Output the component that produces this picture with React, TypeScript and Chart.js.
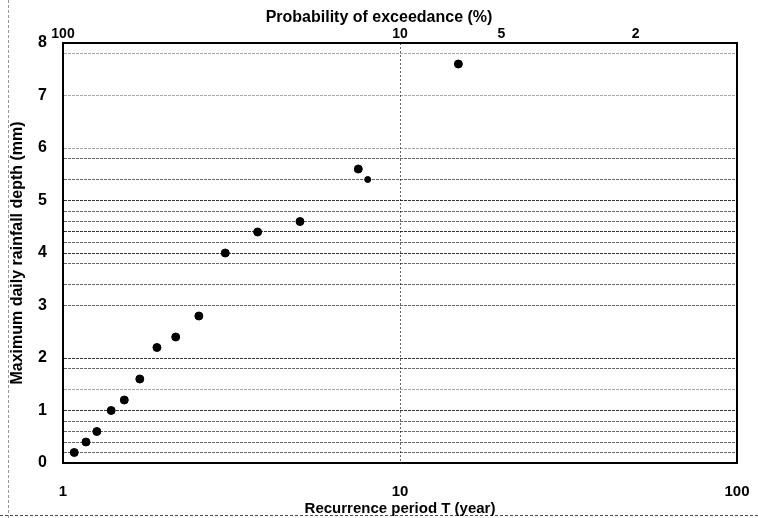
import React, { useEffect, useRef } from 'react';
import { Chart, registerables } from 'chart.js';

Chart.register(...registerables);

// Data
const recurrencePeriods = [1.08, 1.17, 1.26, 1.39, 1.52, 1.69, 1.9, 2.16, 2.53, 3.03, 3.78, 5.05, 7.52, 14.9];
const rainfallDepths = [0.2, 0.4, 0.6, 1.0, 1.2, 1.6, 2.2, 2.4, 2.8, 4.0, 4.4, 4.6, 5.6, 7.6];
const extraPeriods = [8.02];
const extraDepths = [5.4];

const bottomTickValues = [1, 10, 100];
const bottomTickLabels = ['1', '10', '100'];
const topTickValues = [1, 10, 20, 50];
const topTickLabels = ['100', '10', '5', '2'];
const yGridValues = [0, 0.2, 0.4, 0.6, 0.8, 1, 1.4, 1.8, 2, 3, 3.4, 3.8, 4, 4.2, 4.4, 4.6, 4.8, 5, 5.4, 5.8, 6, 7, 7.8, 8];
const yLabelValues = [0, 1, 2, 3, 4, 5, 6, 7, 8];
const strongGridValues = [1, 2, 4, 4.4, 5];
const weakGridValues = [1.4, 6, 7, 7.8];
const xGridValues = [10];

const FONT = '"Liberation Sans", Arial, sans-serif';

export default function App() {
  const canvasRef = useRef<HTMLCanvasElement | null>(null);

  useEffect(() => {
    const canvas = canvasRef.current;
    if (!canvas) return;
    const mainPoints = recurrencePeriods.map((x, i) => ({ x, y: rainfallDepths[i] }));
    const extraPoints = extraPeriods.map((x, i) => ({ x, y: extraDepths[i] }));

    const titleFontSize = 16;
    const titlePadTop = 8;

    const chart = new Chart(canvas, {
      type: 'scatter',
      data: {
        datasets: [
          {
            label: 'Observed',
            data: mainPoints,
            backgroundColor: '#000',
            borderColor: '#000',
            pointRadius: 4,
            pointHoverRadius: 4,
          },
          {
            label: 'Extra',
            data: extraPoints,
            backgroundColor: '#000',
            borderColor: '#000',
            pointRadius: 3,
            pointHoverRadius: 3,
          },
        ],
      },
      options: {
        responsive: false,
        animation: false,
        layout: { padding: 0 },
        plugins: {
          legend: { display: false },
          tooltip: { enabled: false },
          title: {
            display: true,
            text: 'Probability of exceedance (%)',
            color: '#000',
            font: { family: FONT, size: titleFontSize, weight: 'bold' },
            padding: { top: titlePadTop, bottom: 0 },
          },
        },
        scales: {
          x: {
            type: 'logarithmic',
            position: 'bottom',
            min: 1,
            max: 100,
            afterBuildTicks: (scale: any) => {
              scale.ticks = bottomTickValues.map((v) => ({ value: v }));
            },
            afterFit: (scale: any) => {
              scale.height = 55;
              scale.paddingLeft = 0;
              scale.paddingRight = 0;
            },
            ticks: {
              autoSkip: false,
              maxRotation: 0,
              padding: 20,
              color: '#000',
              font: { family: FONT, size: 15, weight: 'bold' },
              callback: (_v: any, i: number) => bottomTickLabels[i],
            },
            grid: {
              drawTicks: false,
              lineWidth: 1,
              color: (ctx: any) =>
                ctx.tick && xGridValues.includes(ctx.tick.value) ? 'rgba(0,0,0,0.6)' : 'rgba(0,0,0,0)',
            },
            border: { display: true, color: '#000', width: 2, dash: [2, 2] },
            title: {
              display: true,
              text: 'Recurrence period T (year)',
              color: '#000',
              font: { family: FONT, size: 15, weight: 'bold' },
              padding: { top: 0, bottom: 0 },
            },
          },
          x2: {
            type: 'logarithmic',
            position: 'top',
            min: 1,
            max: 100,
            afterBuildTicks: (scale: any) => {
              scale.ticks = topTickValues.map((v) => ({ value: v }));
            },
            afterFit: (scale: any) => {
              scale.height = 43 - (titleFontSize * 1.2 + titlePadTop);
              scale.paddingLeft = 0;
              scale.paddingRight = 0;
            },
            ticks: {
              autoSkip: false,
              maxRotation: 0,
              padding: 0,
              color: '#000',
              font: { family: FONT, size: 14, weight: 'bold' },
              callback: (_v: any, i: number) => topTickLabels[i],
            },
            grid: { drawOnChartArea: false, drawTicks: false },
            border: { display: true, color: '#000', width: 2 },
          },
          y: {
            type: 'linear',
            position: 'left',
            min: 0,
            max: 8,
            afterBuildTicks: (scale: any) => {
              scale.ticks = yGridValues.map((v) => ({ value: v }));
            },
            afterFit: (scale: any) => {
              scale.width = 63;
            },
            ticks: {
              autoSkip: false,
              padding: 16,
              color: '#000',
              font: { family: FONT, size: 16, weight: 'bold' },
              callback: (v: any) => (yLabelValues.includes(Number(v)) ? String(v) : ''),
            },
            grid: {
              drawTicks: false,
              lineWidth: 1,
              color: (ctx: any) => {
                const v = ctx.tick ? ctx.tick.value : NaN;
                if (v === 0 || v === 8) return 'rgba(0,0,0,0)';
                if (strongGridValues.includes(v)) return 'rgba(0,0,0,0.8)';
                if (weakGridValues.includes(v)) return 'rgba(0,0,0,0.35)';
                return 'rgba(0,0,0,0.6)';
              },
            },
            border: { display: true, color: '#000', width: 2, dash: [3, 1] },
            title: {
              display: true,
              text: 'Maximum daily rainfall depth (mm)',
              color: '#000',
              font: { family: FONT, size: 16, weight: 'bold' },
              padding: { top: 8, bottom: 0 },
            },
          },
          y2: {
            type: 'linear',
            position: 'right',
            min: 0,
            max: 8,
            afterFit: (scale: any) => {
              scale.width = 21;
            },
            ticks: { display: false },
            grid: { drawOnChartArea: false, drawTicks: false },
            border: { display: true, color: '#000', width: 2 },
          },
        },
      },
    });
    return () => chart.destroy();
  }, []);

  return (
    <div style={{ position: 'fixed', left: 0, top: 0, width: 758, height: 518, background: '#fff', overflow: 'hidden' }}>
      <canvas ref={canvasRef} width={758} height={518} style={{ display: 'block' }} />
      <div style={{ position: 'absolute', left: 8, top: 0, width: 0, height: 518, borderLeft: '1px dashed rgba(0,0,0,0.4)' }} />
      <div style={{ position: 'absolute', left: 0, top: 515, width: 758, height: 0, borderTop: '1px dashed rgba(0,0,0,0.7)' }} />
    </div>
  );
}
